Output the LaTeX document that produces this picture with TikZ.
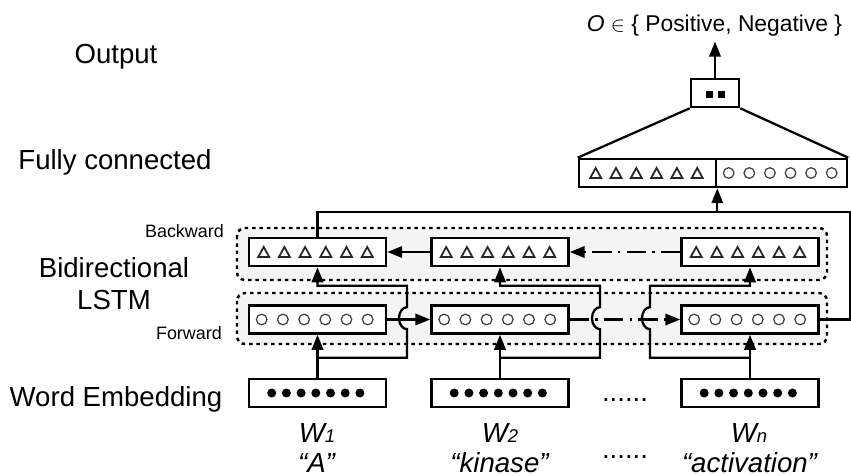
\documentclass[tikz,border=0pt]{standalone}
\usepackage{fontspec}
\setmainfont{Liberation Sans}
\usepackage{tikz}
\usetikzlibrary{arrows.meta,calc}

\tikzset{
  cell/.style={draw, line width=1.5pt, fill=white, minimum width=2.74cm, minimum height=0.56cm, inner sep=0pt},
  wire/.style={line width=1.3pt},
  arr/.style={wire, -{Triangle[length=8.5pt,width=6.5pt]}},
  dashdot/.style={dash pattern=on 11pt off 3.5pt on 1.5pt off 3.5pt},
  group/.style={line width=1.4pt, dash pattern=on 2pt off 2.2pt, fill=gray!9, rounded corners=4.5pt},
  lbl/.style={font=\fontsize{15.7}{19}\selectfont, anchor=base},
  sidelbl/.style={font=\fontsize{10.2}{12}\selectfont, anchor=base east},
  tri/.pic={\draw[line width=1pt, black!85] (-5.5,5) -- (5.5,5) -- (0,-5) -- cycle;},
  ring/.pic={\draw[line width=0.7pt, black!75] (0,0) circle (5.3);},
  dot/.pic={\fill (0,0) circle (4.5);}
}

\begin{document}
\begin{tikzpicture}[x=0.02cm, y=-0.02cm]
  \useasboundingbox (0,0) rectangle (851,476);

  % layer names
  \node[lbl] (outlbl) at (116,63.5) {Output};
  \node[lbl] (fclbl) at (115,169.5) {Fully connected};
  \node[lbl] (bilbl) at (114,277) {Bidirectional};
  \node[lbl] (lstmlbl) at (114,309) {LSTM};
  \node[lbl] (emblbl) at (116,406.5) {Word Embedding};
  \node[sidelbl] (bwlbl) at (230,237) {Backward};
  \node[sidelbl] (fwlbl) at (228,339) {Forward};

  % lstm groups
  \draw[group] (237,228) rectangle (827,280);
  \draw[group] (237,293) rectangle (827,344);

  % cells
  \node[cell] (b1) at (317.5,252) {};
  \node[cell] (b2) at (500,252) {};
  \node[cell] (bn) at (750,252) {};
  \node[cell] (f1) at (317.5,319.5) {};
  \node[cell] (f2) at (500,319.5) {};
  \node[cell] (fn) at (750,319.5) {};
  \node[cell] (e1) at (317.5,393) {};
  \node[cell] (e2) at (500,393) {};
  \node[cell] (en) at (750,393) {};
  \node[cell] (fcl) at (647.5,173) {};
  \node[cell, minimum width=2.62cm] (fcr) at (781.5,173) {};
  \node[cell, minimum width=0.96cm] (out) at (715,93) {};

  % cell contents
  \foreach \bx in {b1,b2,bn}
    \foreach \i in {0,...,5}
      \pic at ($(\bx.west)+(16+\i*20.7,0)$) {tri};
  \foreach \fx in {f1,f2,fn}
    \foreach \i in {0,...,5}
      \pic at ($(\fx.west)+(14+\i*21.2,0)$) {ring};
  \foreach \ex in {e1,e2,en}
    \foreach \i in {0,...,6}
      \pic at ($(\ex.west)+(24+\i*14.7,0)$) {dot};
  \foreach \i in {0,...,5} {
    \pic at ($(fcl.west)+(18+\i*20.3,0)$) {tri};
    \pic at ($(fcr.west)+(14+\i*20.6,0)$) {ring};
  }
  \fill ($(out)+(-9.5,-1.5)$) rectangle ++(7,7);
  \fill ($(out)+(2.5,-1.5)$) rectangle ++(7,7);

  % embeddings into the lstm
  \draw[arr] (e1.north) -- (f1.south);
  \draw[arr] (e2.north) -- (f2.south);
  \draw[arr] (en.north) -- (fn.south);
  \draw[arr] (e1.north) ++(0,-20) -- ++(89.5,0) -- ++(0,-28.5)
    arc[start angle=90, end angle=270, x radius=8, y radius=11] -- ++(0,-21.5) -| (b1.south);
  \draw[arr] (e2.north) ++(0,-20) -- ++(100,0) -- ++(0,-28.5)
    arc[start angle=90, end angle=270, x radius=8, y radius=11] -- ++(0,-21.5) -| (b2.south);
  \draw[arr] (en.north) ++(0,-20) -- ++(-100,0) -- ++(0,-28.5)
    arc[start angle=90, end angle=270, x radius=8, y radius=11] -- ++(0,-21.5) -| (bn.south);

  % recurrent links
  \draw[arr] (f1.east) -- (f2.west);
  \draw[arr, dashdot] (f2.east) -- (fn.west);
  \draw[arr] (b2.west) -- (b1.east);
  \draw[arr, dashdot] (bn.west) -- (b2.east);

  % to the dense layer
  \draw[wire] (fn.east) -- ++(30,0) -- ++(0,-107.5) -| (b1.north);
  \draw[arr] (fcl.south east) ++(0,25) -- (fcl.south east);
  \draw[wire] (out.south west) -- (fcl.north west);
  \draw[wire] (out.south east) -- (fcr.north east);
  \draw[arr] (out.north) -- ++(0,-36);
  \node[lbl, font=\fontsize{13}{16}\selectfont] (title) at (714.5,32)
    {\textit{O} $\in$ \{ Positive, Negative \}};

  % words
  \node[lbl] (w1) at (317,442) {\textit{W{\fontsize{10.5}{12}\selectfont 1}}};
  \node[lbl] (w2) at (500,442) {\textit{W{\fontsize{10.5}{12}\selectfont 2}}};
  \node[lbl] (wn) at (749,442) {\textit{W{\fontsize{10.5}{12}\selectfont n}}};
  \node[lbl] (q1) at (317,472) {\textit{“A”}};
  \node[lbl] (q2) at (500,472) {\textit{“kinase”}};
  \node[lbl] (qn) at (750,472) {\textit{“activation”}};
  \node[lbl] (gap1) at (625,401) {......};
  \node[lbl] (gap2) at (625,458) {......};
\end{tikzpicture}
\end{document}
